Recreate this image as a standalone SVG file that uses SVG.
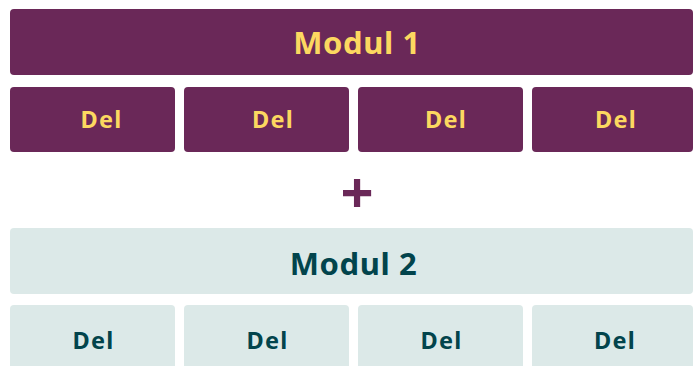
<svg xmlns="http://www.w3.org/2000/svg" width="693" height="366" viewBox="0 0 693 366">
<style>
.m1{fill:#6a2858}
.m2{fill:#dce9e8}
.t1{fill:#fcd860;font-family:"Noto Sans","Open Sans",sans-serif;font-weight:bold;text-anchor:middle}
.t2{fill:#02444c;font-family:"Noto Sans","Open Sans",sans-serif;font-weight:bold;text-anchor:middle}
.big{font-size:31px;letter-spacing:0.6px}
.sm{font-size:23.5px;letter-spacing:1.2px}
</style>
<rect width="693" height="366" fill="#ffffff"/>
<g id="modul1">
<rect class="m1" x="10" y="9" width="683" height="66" rx="4"/>
<text class="t1 big" x="357" y="53.5">Modul 1</text>
</g>
<g id="del1a"><rect class="m1" x="10" y="87" width="165" height="65" rx="4"/><text class="t1 sm" x="101.5" y="128">Del</text></g>
<g id="del1b"><rect class="m1" x="184" y="87" width="165" height="65" rx="4"/><text class="t1 sm" x="273" y="128">Del</text></g>
<g id="del1c"><rect class="m1" x="358" y="87" width="165" height="65" rx="4"/><text class="t1 sm" x="446" y="128">Del</text></g>
<g id="del1d"><rect class="m1" x="532" y="87" width="161" height="65" rx="4"/><text class="t1 sm" x="616" y="128">Del</text></g>
<g id="plus"><text x="357" y="213" fill="#6a2858" font-family="'Noto Sans',sans-serif" font-weight="bold" font-size="58" text-anchor="middle">+</text></g>
<g id="modul2">
<rect class="m2" x="10" y="228" width="683" height="66" rx="4"/>
<text class="t2 big" x="353.5" y="275">Modul 2</text>
</g>
<g id="del2a"><rect class="m2" x="10" y="305" width="165" height="70" rx="4"/><text class="t2 sm" x="93.5" y="349">Del</text></g>
<g id="del2b"><rect class="m2" x="184" y="305" width="165" height="70" rx="4"/><text class="t2 sm" x="267.5" y="349">Del</text></g>
<g id="del2c"><rect class="m2" x="358" y="305" width="165" height="70" rx="4"/><text class="t2 sm" x="441.5" y="349">Del</text></g>
<g id="del2d"><rect class="m2" x="532" y="305" width="161" height="70" rx="4"/><text class="t2 sm" x="615" y="349">Del</text></g>
<g id="connectors"></g>
</svg>
